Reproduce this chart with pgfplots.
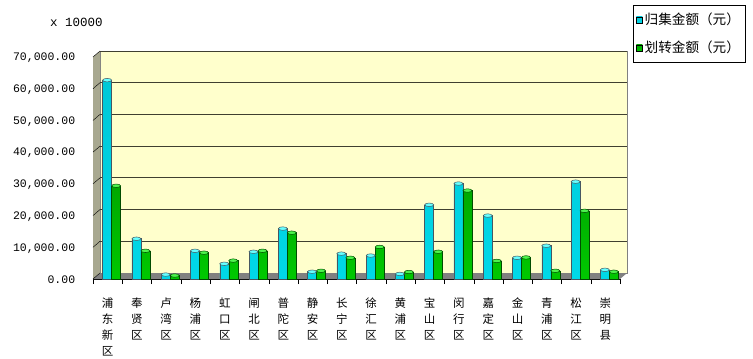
\documentclass[border=0pt]{standalone}
\usepackage{pgfplots}
\usepackage{pgfplotstable}
\pgfplotsset{compat=1.18}
\usetikzlibrary{shapes.geometric}
\usepackage{fontspec}
\setmonofont{Liberation Mono}
\newfontfamily\cjk{Noto Sans CJK SC}
\definecolor{wallc}{HTML}{FFFFCC}
\definecolor{sidec}{HTML}{A8A890}
\definecolor{floorc}{HTML}{808080}
\definecolor{gridc}{HTML}{404030}
\definecolor{cyanL}{HTML}{00C8D8}
\definecolor{cyanM}{HTML}{40FFFF}
\definecolor{cyanR}{HTML}{00D8E8}
\definecolor{greenL}{HTML}{00A800}
\definecolor{greenM}{HTML}{20F020}
\definecolor{greenR}{HTML}{00C800}
\pgfplotstableread{
x a b
0 62700 29400
1 12700 8900
2 1400 1100
3 8900 8300
4 4800 5800
5 8600 8900
6 15900 14600
7 2300 2600
8 8000 6700
9 7400 10100
10 1600 2200
11 23400 8600
12 30100 27900
13 20000 5700
14 6700 6800
15 10500 2600
16 30700 21500
17 2900 2300
}\data
\begin{document}
\begin{tikzpicture}
\useasboundingbox (0,0) rectangle (753pt,359pt);
\node[anchor=west, inner sep=0pt, font=\ttfamily\fontsize{12.5}{13}\selectfont] at (50pt,337pt) {x 10000};
\begin{axis}[
  at={(93pt,80pt)}, anchor=south west,
  scale only axis, width=527pt, height=222pt,
  clip=false,
  xmin=-0.5, xmax=17.5, ymin=0, ymax=70000,
  axis x line*=bottom, axis y line*=left,
  axis line style={black, thin},
  ytick={0,10000,...,70000},
  scaled y ticks=false,
  yticklabel style={/pgf/number format/fixed, /pgf/number format/fixed zerofill, /pgf/number format/precision=2, /pgf/number format/1000 sep={,}, /pgf/number format/assume math mode=true},
  y tick label style={font=\ttfamily\fontsize{11.5}{12}\selectfont, xshift=-10pt, yshift=-1pt},
  y tick style={draw=none},
  xtick={0,...,17},
  x tick style={draw=none},
  minor xtick={-0.5,0.5,...,17.5},
  minor x tick style={draw=black},
  minor tick length=5pt,
  tick align=outside,
  xticklabels={{浦\\东\\新\\区},{奉\\贤\\区},{卢\\湾\\区},{杨\\浦\\区},{虹\\口\\区},{闸\\北\\区},{普\\陀\\区},{静\\安\\区},{长\\宁\\区},{徐\\汇\\区},{黄\\浦\\区},{宝\\山\\区},{闵\\行\\区},{嘉\\定\\区},{金\\山\\区},{青\\浦\\区},{松\\江\\区},{崇\\明\\县}},
  x tick label style={font=\cjk\fontsize{11.5}{16}\selectfont, align=center, anchor=north, yshift=-11pt},
  legend style={at={(1.0247,1.2342)}, anchor=north west, draw=black, fill=white,
     font=\cjk\fontsize{13.6}{14}\selectfont, row sep=11pt, inner xsep=3pt, inner ysep=6pt},
  legend cell align=left,
]
% decorations: back wall, side wall, floor
\filldraw[fill=wallc, draw=gray] ([shift={(7pt,6pt)}]axis cs:-0.5,0) rectangle ([shift={(7pt,6pt)}]axis cs:17.5,70000);
\fill[sidec] (axis cs:-0.5,0) -- (axis cs:-0.5,70000) -- ([shift={(7pt,6pt)}]axis cs:-0.5,70000) -- ([shift={(7pt,6pt)}]axis cs:-0.5,0) -- cycle;
\fill[floorc] (axis cs:-0.5,0) -- (axis cs:17.5,0) -- ([shift={(7pt,6pt)}]axis cs:17.5,0) -- ([shift={(7pt,6pt)}]axis cs:-0.5,0) -- cycle;
\pgfplotsinvokeforeach{10000,20000,30000,40000,50000,60000,70000}{
  \draw[gridc, line width=0.8pt] ([shift={(7pt,6pt)}]axis cs:-0.5,#1) -- ([shift={(7pt,6pt)}]axis cs:17.5,#1);
}
\pgfplotsinvokeforeach{0,10000,20000,30000,40000,50000,60000,70000}{
  \draw[black] (axis cs:-0.5,#1) -- ([shift={(7pt,6pt)}]axis cs:-0.5,#1);
}
\addplot[ybar, bar width=9pt, bar shift=-0.5pt, draw=black!70!cyan, line width=0.5pt,
  left color=cyanL, middle color=cyanM, right color=cyanR, shading angle=0,
  nodes near coords={}, every node near coord/.style={ellipse, draw=black!70!cyan, line width=0.5pt, fill=cyanM!80!white, minimum width=9pt, minimum height=3.5pt, inner sep=0pt, anchor=center, xshift=-0.5pt},
  legend image code/.code={\draw[black, fill=cyanM] (0pt,-3pt) rectangle (6pt,3pt);}]
  table[x=x, y=a] {\data};
\addlegendentry{归集金额（元）}
\addplot[ybar, bar width=9pt, bar shift=8.5pt, draw=black!70!green, line width=0.5pt,
  left color=greenL, middle color=greenM, right color=greenR, shading angle=0,
  nodes near coords={}, every node near coord/.style={ellipse, draw=black!70!green, line width=0.5pt, fill=greenM!80!white, minimum width=9pt, minimum height=3.5pt, inner sep=0pt, anchor=center, xshift=8.5pt},
  legend image code/.code={\draw[black, fill=greenM] (0pt,-3pt) rectangle (6pt,3pt);}]
  table[x=x, y=b] {\data};
\addlegendentry{划转金额（元）}
\end{axis}
\end{tikzpicture}
\end{document}
